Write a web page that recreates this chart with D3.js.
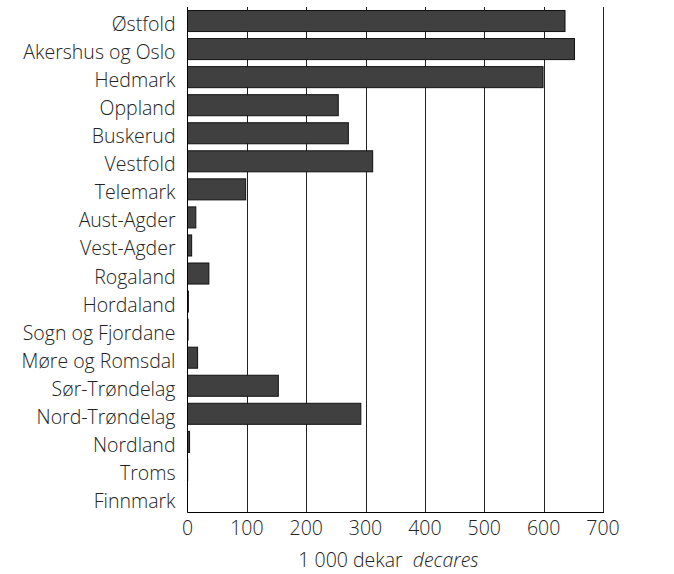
<!DOCTYPE html>
<html><head><meta charset="utf-8">
<script src="https://cdn.jsdelivr.net/npm/d3@7"></script>
<style>body{margin:0;background:#fff}svg{display:block}text{font-family:"Open Sans",sans-serif;font-weight:300}</style>
</head><body>
<script>
const categories = ["Østfold","Akershus og Oslo","Hedmark","Oppland","Buskerud","Vestfold","Telemark","Aust-Agder","Vest-Agder","Rogaland","Hordaland","Sogn og Fjordane","Møre og Romsdal","Sør-Trøndelag","Nord-Trøndelag","Nordland","Troms","Finnmark"];
const values = [636,652,599,254,271,312,98,14,7,36,1.5,1,17,153,292,3.5,0.3,0];
const xTicks = [0,100,200,300,400,500,600,700];
const xTitle = "1 000 dekar";
const xTitleEn = "decares";

const W=674,H=574;
const m={left:187.5,right:71,top:7,bottom:62};
const FS=19.5;
const svg=d3.select("body").append("svg").attr("width",W).attr("height",H);
const x=d3.scaleLinear().domain([0,700]).range([m.left,W-m.right]);
const y=d3.scaleBand().domain(categories).range([m.top,H-m.bottom]).paddingInner(0.25).paddingOuter(0.125);

// gridlines
svg.append("g").selectAll("line").data(xTicks.slice(1)).join("line")
  .attr("x1",d=>Math.round(x(d))+0.5).attr("x2",d=>Math.round(x(d))+0.5)
  .attr("y1",m.top).attr("y2",H-m.bottom)
  .attr("stroke","#222").attr("stroke-width",1);

// bars
svg.append("g").selectAll("rect").data(categories).join("rect")
  .attr("x",x(0)).attr("y",d=>y(d))
  .attr("width",(d,i)=>Math.max(0,x(values[i])-x(0)))
  .attr("height",y.bandwidth())
  .attr("fill","#404040").attr("stroke","#111").attr("stroke-width",1);

// axes lines
svg.append("line").attr("x1",x(0)).attr("x2",x(0)).attr("y1",m.top).attr("y2",H-m.bottom+0.5).attr("stroke","#000");
svg.append("line").attr("x1",x(0)).attr("x2",Math.round(x(700))+1).attr("y1",H-m.bottom+0.5).attr("y2",H-m.bottom+0.5).attr("stroke","#000");

// category labels
svg.append("g").selectAll("text").data(categories).join("text")
  .attr("x",m.left-12).attr("y",d=>y(d)+y.bandwidth()/2+10)
  .attr("text-anchor","end")
  .attr("font-size",FS).attr("fill","#222").text(d=>d);

// tick labels
svg.append("g").selectAll("text").data(xTicks).join("text")
  .attr("x",d=>x(d)).attr("y",535)
  .attr("text-anchor","middle")
  .attr("font-size",FS).attr("fill","#222").text(d=>d);

// axis title
const t=svg.append("text").attr("x",388.5).attr("y",567)
  .attr("text-anchor","middle").attr("font-size",FS).attr("fill","#222");
t.append("tspan").text(xTitle+"\u00a0\u00a0");
t.append("tspan").attr("font-style","italic").text(xTitleEn);
</script>
</body></html>
